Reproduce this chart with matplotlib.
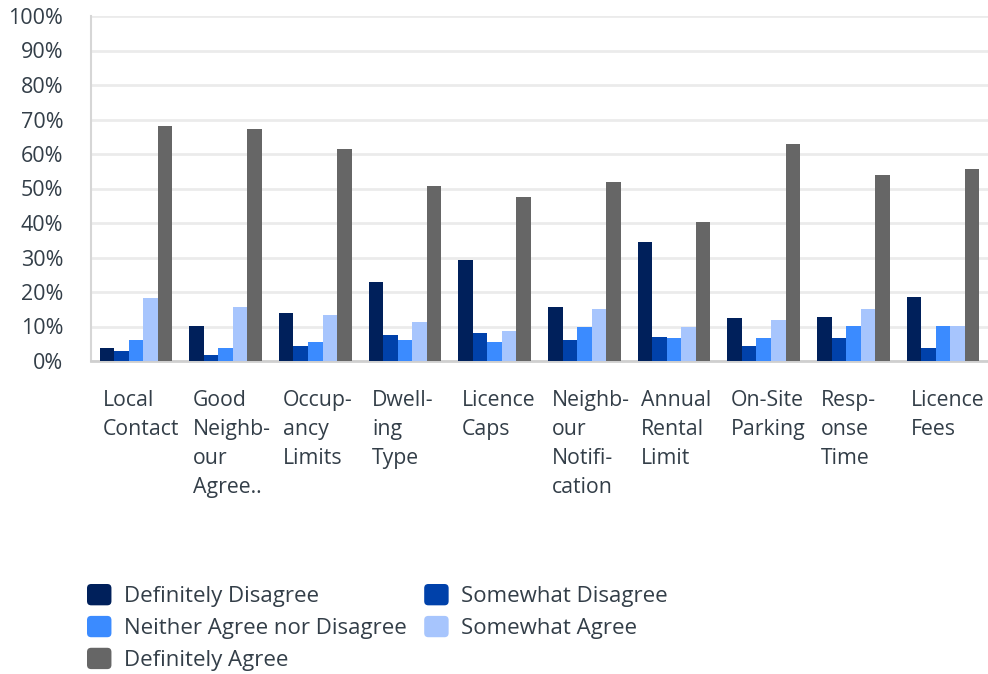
import matplotlib
matplotlib.use("Agg")
import matplotlib.pyplot as plt
import numpy as np
from matplotlib.patches import Patch, FancyBboxPatch
from matplotlib.legend_handler import HandlerPatch
from matplotlib.ticker import PercentFormatter

plt.rcParams['font.family'] = ['Open Sans', 'DejaVu Sans']

categories = ["Local\nContact", "Good\nNeighb-\nour\nAgree..", "Occup-\nancy\nLimits",
              "Dwell-\ning\nType", "Licence\nCaps", "Neighb-\nour\nNotifi-\ncation",
              "Annual\nRental\nLimit", "On-Site\nParking", "Resp-\nonse\nTime", "Licence\nFees"]

definitely_disagree = [3.7, 10.1, 13.8, 22.8, 29.2, 15.6, 34.4, 12.4, 12.7, 18.5]
somewhat_disagree = [2.8, 1.6, 4.3, 7.4, 8.0, 6.0, 6.9, 4.3, 6.6, 3.7]
neither = [6.0, 3.7, 5.4, 6.0, 5.4, 9.8, 6.6, 6.6, 10.1, 10.1]
somewhat_agree = [18.2, 15.6, 13.2, 11.2, 8.6, 15.0, 9.8, 11.8, 15.0, 10.1]
definitely_agree = [68.1, 67.2, 61.4, 50.7, 47.5, 51.8, 40.2, 62.9, 53.9, 55.6]

series = ["Definitely Disagree", "Somewhat Disagree", "Neither Agree nor Disagree",
          "Somewhat Agree", "Definitely Agree"]
colors = ["#00205B", "#0041AA", "#3B8BFF", "#A7C5FD", "#666666"]
values = [definitely_disagree, somewhat_disagree, neither, somewhat_agree, definitely_agree]

text_color = "#333e48"

fig = plt.figure(figsize=(9.88, 6.74), dpi=100)
ax = fig.add_axes([91/988, 1 - 361/674, 1 - 91/988, 345/674])

x = np.arange(len(categories))
w = 0.162
for k, (vals, c, name) in enumerate(zip(values, colors, series)):
    ax.bar(x + (k - 2) * w, vals, width=w, color=c, label=name, zorder=3)

ax.set_xlim(-0.5, len(categories) - 0.5)
ax.set_ylim(0, 100)
ax.set_yticks(np.arange(0, 101, 10))
ax.yaxis.set_major_formatter(PercentFormatter(decimals=0))
ax.grid(axis='y', color='#ebebeb', linewidth=2, zorder=0)
ax.tick_params(axis='y', length=0, pad=20, labelsize=15.5, labelcolor=text_color)
ax.set_xticks([])
for s in ['top', 'right']:
    ax.spines[s].set_visible(False)
ax.spines['left'].set_color('#d6d6d6')
ax.spines['left'].set_linewidth(1.5)
ax.spines['bottom'].set_color('#cfcfcf')
ax.spines['bottom'].set_linewidth(2)

# category labels, left aligned under each group
for i, lab in enumerate(categories):
    ax.text(i - 0.405 + 0.04, -0.084, lab, transform=ax.get_xaxis_transform(),
            ha='left', va='top', fontsize=15.3, color=text_color, linespacing=1.5)


class RoundHandler(HandlerPatch):
    def create_artists(self, legend, orig_handle, xdescent, ydescent, width, height, fontsize, trans):
        p = FancyBboxPatch((-xdescent, -ydescent), width, height,
                           boxstyle="round,pad=0,rounding_size=3",
                           facecolor=orig_handle.get_facecolor(), edgecolor='none',
                           transform=trans)
        return [p]


order = [0, 2, 4, 1, 3]
handles = [Patch(facecolor=colors[k], label=series[k]) for k in order]
leg = fig.legend(handles=handles, loc='upper left', bbox_to_anchor=(87/988, 1 - 584/674),
                 ncol=2, frameon=False, fontsize=16, borderpad=0, borderaxespad=0,
                 handlelength=1.1, handleheight=1.1, handletextpad=0.55,
                 columnspacing=0.8, labelspacing=0.39,
                 handler_map={Patch: RoundHandler()})
for t in leg.get_texts():
    t.set_color(text_color)

fig.savefig("out.png", dpi=100)
